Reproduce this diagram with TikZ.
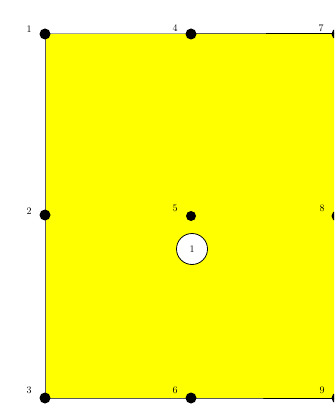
\documentclass[tikz,border=0pt]{standalone}
\definecolor{fillyel}{RGB}{255,255,0}
\begin{document}
\begin{tikzpicture}[x=1pt,y=-1pt,
  dot/.style={circle,fill=black,inner sep=0pt,minimum size=11pt},
  lbl/.style={font=\fontsize{10}{10}\selectfont,inner sep=0pt},
  elem/.style={circle,draw=black,fill=white,line width=0.8pt,minimum size=31pt,inner sep=0pt,font=\fontsize{10}{10}\selectfont}]
\useasboundingbox (0,0) rectangle (334,411);
\clip (0,0) rectangle (334,411);
\fill[fillyel] (45,34) rectangle (340,398);
\draw[gray!70!black,line width=0.6pt] (45,34) -- (45,398);
\coordinate (n1) at (45,34);
\coordinate (n2) at (45,215);
\coordinate (n3) at (45,398);
\coordinate (n4) at (191,34);
\coordinate (n5) at (191,216);
\coordinate (n6) at (191,398);
\coordinate (n7) at (337,34);
\coordinate (n8) at (337,216);
\coordinate (n9) at (337,398);
\draw[line width=1pt] (n1) -- (n4) -- (n7);
\draw[line width=1pt] (n3) -- (n6) -- (n9);
\node[dot] (d1) at (n1) {};
\node[dot] (d2) at (n2) {};
\node[dot] (d3) at (n3) {};
\node[dot] (d4) at (n4) {};
\node[dot,minimum size=10pt] (d5) at (n5) {};
\node[dot] (d6) at (n6) {};
\node[dot] (d7) at (n7) {};
\node[dot] (d8) at (n8) {};
\node[dot] (d9) at (n9) {};
\node[lbl] (l1) at (29,29) {1};
\node[lbl] (l2) at (29,211) {2};
\node[lbl] (l3) at (29,390) {3};
\node[lbl] (l4) at (175,28) {4};
\node[lbl] (l5) at (175,208) {5};
\node[lbl] (l6) at (175,390) {6};
\node[lbl] (l7) at (321,28) {7};
\node[lbl] (l8) at (322,208) {8};
\node[lbl] (l9) at (322,390) {9};
\node[elem] (e1) at (192,249) {1};
\end{tikzpicture}
\end{document}
